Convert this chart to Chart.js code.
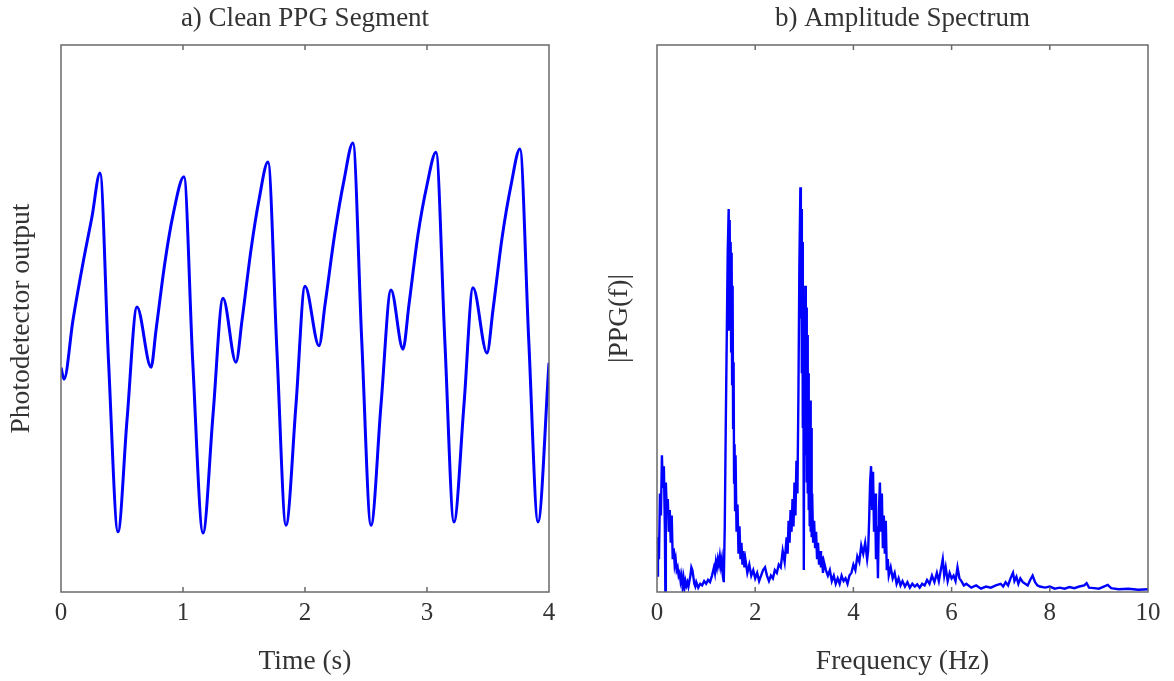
<!DOCTYPE html>
<html>
<head>
<meta charset="utf-8">
<script src="https://cdn.jsdelivr.net/npm/chart.js@4.4.1/dist/chart.umd.min.js"></script>
<style>
  html, body { margin: 0; padding: 0; background: #fff; }
  #wrap { position: relative; width: 1174px; height: 681px; }
  canvas { position: absolute; top: 0; }
  #ppgChart { left: 0; }
  #specChart { left: 587px; }
</style>
</head>
<body>
<div id="wrap">
  <canvas id="ppgChart" width="587" height="681"></canvas>
  <canvas id="specChart" width="587" height="681"></canvas>
</div>
<script>
// a) clean PPG segment (time in s, output in arbitrary units)
var ppgTime = [0, 0.025, 0.098, 0.18, 0.254, 0.32, 0.39, 0.467, 0.541, 0.623, 0.738, 0.779, 0.852, 0.918, 1.008,
  1.08, 1.164, 1.246, 1.328, 1.434, 1.484, 1.557, 1.623, 1.697, 1.77, 1.844, 1.926, 2.0, 2.115, 2.164, 2.246,
  2.32, 2.393, 2.465, 2.541, 2.623, 2.705, 2.803, 2.852, 2.926, 3.0, 3.074, 3.146, 3.221, 3.303, 3.377, 3.492,
  3.541, 3.615, 3.689, 3.762, 3.834, 3.91, 4.0];
var ppgValue = [0.41, 0.389, 0.497, 0.601, 0.686, 0.766, 0.42, 0.11, 0.314, 0.521, 0.411, 0.479, 0.603, 0.689, 0.759,
  0.42, 0.108, 0.324, 0.537, 0.42, 0.497, 0.625, 0.717, 0.786, 0.44, 0.122, 0.342, 0.559, 0.45, 0.525, 0.658,
  0.753, 0.821, 0.46, 0.122, 0.342, 0.552, 0.444, 0.525, 0.653, 0.744, 0.804, 0.46, 0.128, 0.342, 0.556, 0.437,
  0.516, 0.647, 0.744, 0.81, 0.46, 0.128, 0.419];

// b) amplitude spectrum |PPG(f)| (frequency in Hz, relative amplitude)
var specFreq = [0, 0.02, 0.04, 0.06, 0.08, 0.1, 0.12, 0.14, 0.16, 0.17, 0.18, 0.2, 0.22, 0.24, 0.26, 0.28, 0.3,
  0.32, 0.34, 0.36, 0.38, 0.4, 0.42, 0.44, 0.46, 0.48, 0.5, 0.52, 0.54, 0.56, 0.58, 0.6, 0.62, 0.64, 0.66, 0.68,
  0.7, 0.72, 0.74, 0.76, 0.78, 0.8, 0.84, 0.88, 0.92, 0.96, 1.0, 1.04, 1.08, 1.12, 1.16, 1.18, 1.2, 1.22, 1.24,
  1.26, 1.28, 1.3, 1.32, 1.34, 1.36, 1.38, 1.4, 1.42, 1.44, 1.46, 1.47, 1.48, 1.49, 1.5, 1.51, 1.52, 1.53, 1.54,
  1.55, 1.56, 1.57, 1.58, 1.59, 1.6, 1.62, 1.64, 1.66, 1.68, 1.7, 1.72, 1.74, 1.76, 1.78, 1.8, 1.84, 1.88, 1.92,
  1.96, 2.0, 2.04, 2.08, 2.12, 2.16, 2.2, 2.24, 2.28, 2.32, 2.36, 2.4, 2.44, 2.48, 2.52, 2.56, 2.6, 2.64, 2.66,
  2.68, 2.7, 2.72, 2.74, 2.76, 2.78, 2.8, 2.82, 2.84, 2.86, 2.88, 2.9, 2.92, 2.93, 2.94, 2.95, 2.96, 2.97, 2.98,
  2.99, 3.0, 3.01, 3.02, 3.03, 3.04, 3.05, 3.06, 3.07, 3.08, 3.09, 3.1, 3.11, 3.12, 3.13, 3.14, 3.15, 3.16, 3.18,
  3.2, 3.22, 3.24, 3.26, 3.28, 3.3, 3.32, 3.34, 3.36, 3.38, 3.4, 3.44, 3.48, 3.52, 3.56, 3.6, 3.64, 3.68, 3.72,
  3.76, 3.8, 3.84, 3.88, 3.92, 3.96, 4.0, 4.04, 4.08, 4.12, 4.16, 4.2, 4.24, 4.28, 4.3, 4.32, 4.34, 4.36, 4.38,
  4.4, 4.42, 4.44, 4.46, 4.48, 4.5, 4.52, 4.54, 4.56, 4.58, 4.6, 4.62, 4.64, 4.66, 4.68, 4.7, 4.72, 4.76, 4.8,
  4.84, 4.88, 4.92, 4.96, 5.0, 5.05, 5.1, 5.15, 5.2, 5.25, 5.3, 5.35, 5.4, 5.45, 5.5, 5.55, 5.6, 5.65, 5.7, 5.74,
  5.78, 5.82, 5.85, 5.88, 5.92, 5.96, 6.0, 6.04, 6.08, 6.12, 6.16, 6.2, 6.25, 6.3, 6.4, 6.5, 6.6, 6.7, 6.8, 6.9,
  7.0, 7.05, 7.1, 7.15, 7.2, 7.25, 7.28, 7.32, 7.36, 7.4, 7.45, 7.5, 7.55, 7.6, 7.65, 7.7, 7.75, 7.8, 7.9, 8.0,
  8.1, 8.2, 8.3, 8.4, 8.5, 8.6, 8.7, 8.75, 8.8, 8.9, 9.0, 9.1, 9.18, 9.25, 9.4, 9.6, 9.8, 10.0];
var specAmp = [0.03, 0.1, 0.06, 0.18, 0.14, 0.25, 0.19, 0.23, 0.12, 0.0, 0.2, 0.15, 0.17, 0.11, 0.15, 0.09, 0.14,
  0.06, 0.08, 0.05, 0.06, 0.04, 0.045, 0.03, 0.035, 0.02, 0.03, 0.01, 0.025, 0.008, 0.02, 0.012, 0.018, 0.01, 0.02, 0.03,
  0.045, 0.04, 0.028, 0.015, 0.01, 0.018, 0.008, 0.015, 0.012, 0.02, 0.015, 0.022, 0.018, 0.03, 0.045, 0.035, 0.055, 0.045, 0.06,
  0.05, 0.065, 0.048, 0.06, 0.03, 0.018, 0.12, 0.3, 0.46, 0.62, 0.7, 0.48, 0.68, 0.52, 0.64, 0.44, 0.62, 0.38, 0.56,
  0.3, 0.42, 0.2, 0.27, 0.15, 0.25, 0.11, 0.16, 0.07, 0.12, 0.06, 0.09, 0.05, 0.075, 0.045, 0.06, 0.035, 0.05, 0.03,
  0.04, 0.025, 0.035, 0.02, 0.03, 0.04, 0.045, 0.03, 0.02, 0.03, 0.025, 0.04, 0.035, 0.05, 0.045, 0.075, 0.055, 0.1, 0.07,
  0.13, 0.09, 0.15, 0.11, 0.17, 0.12, 0.2, 0.14, 0.24, 0.18, 0.36, 0.6, 0.74, 0.5, 0.7, 0.4, 0.64, 0.3, 0.52,
  0.04, 0.4, 0.25, 0.56, 0.28, 0.52, 0.2, 0.47, 0.18, 0.4, 0.15, 0.35, 0.12, 0.35, 0.11, 0.3, 0.1, 0.18, 0.09,
  0.13, 0.08, 0.11, 0.06, 0.09, 0.05, 0.075, 0.045, 0.065, 0.035, 0.055, 0.04, 0.03, 0.04, 0.02, 0.03, 0.015, 0.025, 0.015,
  0.03, 0.02, 0.025, 0.015, 0.03, 0.035, 0.05, 0.04, 0.065, 0.055, 0.085, 0.07, 0.09, 0.06, 0.075, 0.13, 0.2, 0.23, 0.15,
  0.22, 0.11, 0.18, 0.06, 0.12, 0.025, 0.15, 0.2, 0.11, 0.18, 0.08, 0.14, 0.07, 0.13, 0.04, 0.06, 0.03, 0.045, 0.025,
  0.035, 0.015, 0.025, 0.012, 0.02, 0.01, 0.018, 0.008, 0.015, 0.01, 0.014, 0.008, 0.015, 0.012, 0.022, 0.015, 0.03, 0.018, 0.035, 0.02,
  0.04, 0.06, 0.03, 0.045, 0.02, 0.035, 0.025, 0.03, 0.02, 0.045, 0.025, 0.02, 0.012, 0.015, 0.008, 0.012, 0.006, 0.01, 0.008, 0.012,
  0.015, 0.01, 0.018, 0.012, 0.025, 0.035, 0.02, 0.028, 0.015, 0.025, 0.018, 0.015, 0.012, 0.022, 0.03, 0.018, 0.012, 0.01, 0.008, 0.01,
  0.006, 0.008, 0.006, 0.009, 0.007, 0.01, 0.012, 0.016, 0.008, 0.007, 0.006, 0.01, 0.013, 0.007, 0.005, 0.006, 0.004, 0.005];

var timeTicks = [0, 1, 2, 3, 4];
var freqTicks = [0, 2, 4, 6, 8, 10];

var serif = '"Liberation Serif", "Times New Roman", serif';
var textColor = '#333';

// MATLAB style box with inward ticks on top and bottom
var boxPlugin = {
  id: 'box',
  afterDraw: function(chart) {
    var ctx = chart.ctx, a = chart.chartArea, xs = chart.scales.x;
    ctx.save();
    ctx.strokeStyle = '#6a6a6a';
    ctx.lineWidth = 1.5;
    ctx.strokeRect(a.left, a.top, a.right - a.left, a.bottom - a.top);
    ctx.beginPath();
    xs.ticks.forEach(function(t) {
      var px = xs.getPixelForValue(t.value);
      if (px <= a.left + 1 || px >= a.right - 1) return;
      ctx.moveTo(px, a.bottom); ctx.lineTo(px, a.bottom - 5);
      ctx.moveTo(px, a.top); ctx.lineTo(px, a.top + 5);
    });
    ctx.stroke();
    ctx.restore();
  }
};

function makeOptions(cfg) {
  return {
    responsive: false,
    animation: false,
    layout: { padding: { left: 0, right: cfg.padRight, top: 0, bottom: 0 } },
    plugins: {
      legend: { display: false },
      tooltip: { enabled: false },
      title: {
        display: true,
        text: cfg.title,
        fullSize: false,
        color: textColor,
        font: { family: serif, size: 27, weight: 'normal' },
        padding: { top: 3, bottom: 9.6 }
      }
    },
    scales: {
      x: {
        type: 'linear',
        min: cfg.ticks[0],
        max: cfg.ticks[cfg.ticks.length - 1],
        afterBuildTicks: function(scale) {
          scale.ticks = cfg.ticks.map(function(v) { return { value: v }; });
        },
        afterFit: function(scale) { scale.height = 89; },
        grid: { display: false, drawTicks: false },
        border: { display: false },
        ticks: { color: textColor, padding: 6, maxRotation: 0, autoSkip: false, font: { family: serif, size: 25 } },
        title: {
          display: true,
          text: cfg.xLabel,
          color: textColor,
          font: { family: serif, size: 27.5 },
          padding: { top: 0, bottom: 2.5 }
        }
      },
      y: {
        min: 0,
        max: 1,
        afterFit: function(scale) { scale.width = cfg.yWidth; },
        grid: { display: false, drawTicks: false },
        border: { display: false },
        ticks: { display: false },
        title: {
          display: true,
          text: cfg.yLabel,
          color: textColor,
          font: { family: serif, size: 27.5 },
          padding: { top: cfg.yTitlePad, bottom: 0 }
        }
      }
    }
  };
}

new Chart(document.getElementById('ppgChart').getContext('2d'), {
  type: 'line',
  data: {
    datasets: [{
      data: ppgTime.map(function(t, i) { return { x: t, y: ppgValue[i] }; }),
      borderColor: '#0000ff',
      borderWidth: 3,
      pointRadius: 0,
      cubicInterpolationMode: 'monotone',
      fill: false
    }]
  },
  options: makeOptions({
    title: 'a) Clean PPG Segment', xLabel: 'Time (s)', yLabel: 'Photodetector output',
    ticks: timeTicks, padRight: 38, yWidth: 61, yTitlePad: 5.5
  }),
  plugins: [boxPlugin]
});

new Chart(document.getElementById('specChart').getContext('2d'), {
  type: 'line',
  data: {
    datasets: [{
      data: specFreq.map(function(f, i) { return { x: f, y: specAmp[i] }; }),
      borderColor: '#0000ff',
      borderWidth: 2.4,
      pointRadius: 0,
      tension: 0,
      fill: false
    }]
  },
  options: makeOptions({
    title: 'b) Amplitude Spectrum', xLabel: 'Frequency (Hz)', yLabel: '|PPG(f)|',
    ticks: freqTicks, padRight: 26, yWidth: 70, yTitlePad: 16.5
  }),
  plugins: [boxPlugin]
});
</script>
</body>
</html>
